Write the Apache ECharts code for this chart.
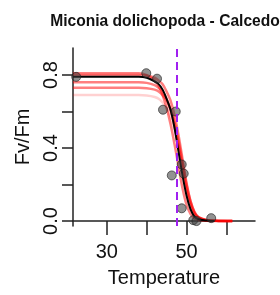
<!DOCTYPE html>
<html>
<head>
<meta charset="utf-8">
<script src="https://cdn.jsdelivr.net/npm/echarts@6/dist/echarts.min.js"></script>
<style>
  html,body{margin:0;padding:0;background:#fff;}
  #chart{width:280px;height:295px;}
</style>
</head>
<body>
<div id="chart"></div>
<script>
  // measured points (temperature, Fv/Fm)
  let pointTemps = [22.3, 39.9, 42.6, 44.1, 47.3, 48.8, 46.3, 49.3, 48.8, 51.7, 52.5, 56.2]
  let pointVals  = [0.79, 0.81, 0.78, 0.61, 0.60, 0.31, 0.25, 0.26, 0.07, 0.005, 0.0, 0.016]

  // fitted curve
  let fitTemps = [21.5, 38, 40, 42, 43, 44, 45, 46, 47, 48, 49, 50, 51, 52, 53, 55, 57]
  let fitVals  = [0.79, 0.79, 0.785, 0.765, 0.75, 0.72, 0.67, 0.61, 0.51, 0.38, 0.25, 0.14, 0.065, 0.025, 0.01, 0.003, 0.001]

  // bootstrap curves (red)
  let bootTemps = [21.5, 38, 40, 42, 43, 44, 45, 46, 47, 48, 49, 50, 51, 52, 53, 55, 58, 61.5]
  let boot1 = [0.80, 0.80, 0.797, 0.785, 0.77, 0.75, 0.71, 0.66, 0.58, 0.47, 0.34, 0.21, 0.11, 0.05, 0.02, 0.005, 0.001, 0.0]
  let boot2 = [0.81, 0.81, 0.80, 0.77, 0.74, 0.69, 0.62, 0.53, 0.42, 0.30, 0.18, 0.09, 0.04, 0.015, 0.006, 0.002, 0.0, 0.0]
  let boot3 = [0.76, 0.76, 0.757, 0.745, 0.73, 0.71, 0.67, 0.61, 0.52, 0.41, 0.28, 0.17, 0.09, 0.04, 0.02, 0.005, 0.001, 0.0]
  let boot4 = [0.73, 0.73, 0.728, 0.72, 0.71, 0.69, 0.66, 0.61, 0.54, 0.44, 0.32, 0.20, 0.11, 0.05, 0.022, 0.006, 0.002, 0.001]
  let boot5 = [0.69, 0.69, 0.688, 0.68, 0.67, 0.65, 0.62, 0.57, 0.50, 0.40, 0.29, 0.18, 0.10, 0.045, 0.02, 0.005, 0.001, 0.0]

  let t50 = 47.5
  let xTicks = [30, 40, 50, 60]
  let xLabels = [30, 50]
  let yTicks = [0, 0.2, 0.4, 0.6, 0.8]
  let yLabels = [0, 0.4, 0.8]

  function pairs(xs, ys){
    let out = []
    for (let i = 0; i < xs.length; i++) out.push([xs[i], ys[i]])
    return out
  }

  let font = 'Liberation Sans, Arial, sans-serif'
  let bootSeries = [boot1, boot2, boot3, boot4, boot5].map((b, i) => ({
    type: 'line',
    data: pairs(bootTemps, b),
    smooth: 0.3,
    symbol: 'none',
    z: 2,
    lineStyle: {color: i == 4 ? 'rgba(255,0,0,0.18)' : 'rgba(255,0,0,0.5)', width: 2.5}
  }))

  let myChart = echarts.init(document.getElementById('chart'))
  myChart.setOption({
    animation: false,
    title: {
      text: 'Miconia dolichopoda - Calcedo',
      left: 160,
      top: 9,
      textAlign: 'center',
      textStyle: {fontFamily: font, fontSize: 15.6, fontWeight: 'bold', color: '#111'}
    },
    grid: {left: 73, right: 25, top: 48, bottom: 69},
    xAxis: {
      type: 'value',
      min: 21.5,
      max: 67.2,
      name: 'Temperature',
      nameLocation: 'middle',
      nameGap: 42,
      nameTextStyle: {fontFamily: font, fontSize: 20, color: '#111'},
      axisLine: {show: true, lineStyle: {color: '#222', width: 1.5}},
      axisTick: {show: true, length: 14, customValues: xTicks, lineStyle: {color: '#222', width: 1.5}},
      axisLabel: {customValues: xLabels, margin: 16, fontFamily: font, fontSize: 20, color: '#111'},
      splitLine: {show: false}
    },
    yAxis: {
      type: 'value',
      min: -0.027,
      max: 0.948,
      name: 'Fv/Fm',
      nameLocation: 'middle',
      nameGap: 36,
      nameTextStyle: {fontFamily: font, fontSize: 20, color: '#111'},
      axisLine: {show: true, lineStyle: {color: '#222', width: 1.5}},
      axisTick: {show: true, length: 11, customValues: yTicks, lineStyle: {color: '#222', width: 1.5}},
      axisLabel: {
        customValues: yLabels,
        rotate: 90,
        margin: 12,
        fontFamily: font,
        fontSize: 20,
        color: '#111',
        formatter: (v) => v.toFixed(1)
      },
      splitLine: {show: false}
    },
    series: bootSeries.concat([{
      type: 'line',
      data: pairs(fitTemps, fitVals),
      smooth: 0.3,
      symbol: 'none',
      z: 3,
      lineStyle: {color: '#000', width: 2},
      markLine: {
        silent: true,
        symbol: 'none',
        label: {show: false},
        lineStyle: {color: '#a020f0', width: 2, type: [8, 5]},
        data: [{xAxis: t50}]
      }
    }, {
      type: 'scatter',
      data: pairs(pointTemps, pointVals),
      symbolSize: 9,
      z: 4,
      itemStyle: {color: 'rgba(60,60,60,0.7)', borderColor: 'rgba(30,30,30,0.8)', borderWidth: 1}
    }])
  })
</script>
</body>
</html>
